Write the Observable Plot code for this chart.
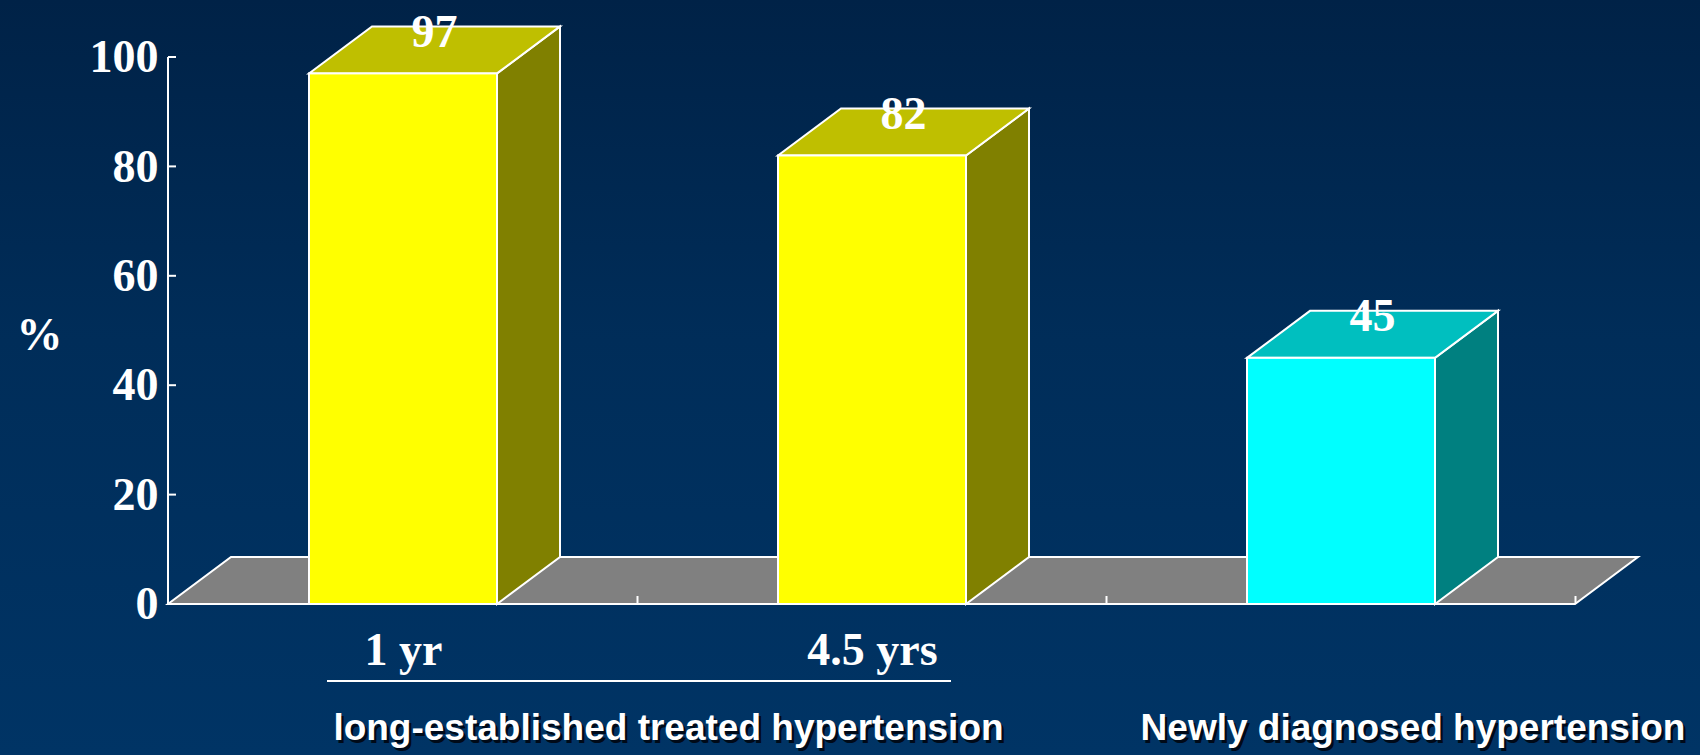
<!DOCTYPE html>
<html>
<head>
<meta charset="utf-8">
<script src="https://cdn.jsdelivr.net/npm/d3@7"></script>
<script src="https://cdn.jsdelivr.net/npm/@observablehq/plot@0.6"></script>
<style>
  html, body { margin: 0; padding: 0; overflow: hidden; }
  body {
    width: 1700px; height: 755px;
    background: linear-gradient(to bottom, #002247 0%, #002d59 45%, #003465 100%);
  }
  #chart svg { display: block; }
  #chart g[aria-label$="tick label"] { font: bold 46px "Liberation Serif", "Times New Roman", serif; }
</style>
</head>
<body>
<div id="chart"></div>
<script>
// Share of patients (%) per group
const categories = ["1 yr", "4.5 yrs", "Newly diagnosed"];
const tickLabels = ["1 yr", "4.5 yrs", ""];
const values = [97, 82, 45];
const kinds = ["treated", "treated", "new"];
const yTicks = [0, 20, 40, 60, 80, 100];
const groupLabels = ["long-established treated hypertension", "Newly diagnosed hypertension"];
const percentLabel = "%";

const rows = categories.map((category, i) => ({category, value: values[i], kind: kinds[i]}));

// oblique projection used for the extruded faces (pixels)
const depth = {dx: 63, dy: -47};
const serif = "Liberation Serif, Times New Roman, serif";
const sans = "Liberation Sans, Arial, sans-serif";

const poly = (pts) => "M" + pts.map((p) => p.join(",")).join("L") + "Z";
const shade = (c, k) => { const r = d3.rgb(c); return d3.rgb(r.r * k, r.g * k, r.b * k).formatHex(); };

// floor plate, axis line, ticks and the top/side faces of each bar
function floorAndFaces(index, scales, values, dims) {
  const {x, y, color} = scales;
  const bw = x.bandwidth(), step = x.step();
  const y0 = y(0);
  const left = dims.marginLeft, right = dims.width - dims.marginRight;
  const g = d3.create("svg:g")
    .attr("stroke", "white").attr("stroke-width", 2).attr("stroke-linejoin", "miter");
  g.append("path").attr("fill", "#808080")
    .attr("d", poly([[left, y0], [right, y0], [right + depth.dx, y0 + depth.dy], [left + depth.dx, y0 + depth.dy]]));
  // y axis line with inward ticks
  g.append("line").attr("x1", left).attr("x2", left).attr("y1", y(yTicks[0])).attr("y2", y(yTicks[yTicks.length - 1]));
  for (const t of yTicks.slice(1)) {
    g.append("line").attr("x1", left).attr("x2", left + 8).attr("y1", y(t)).attr("y2", y(t));
  }
  // ticks at band boundaries along the floor's front edge
  for (const c of categories) {
    const bx = x(c) + bw + (step - bw) / 2;
    g.append("line").attr("x1", bx).attr("x2", bx).attr("y1", y0).attr("y2", y0 - 8);
  }
  for (const d of rows) {
    const x0 = x(d.category), x1 = x0 + bw, yv = y(d.value);
    const base = color(d.kind);
    g.append("path").attr("fill", shade(base, 0.5))
      .attr("d", poly([[x1, yv], [x1 + depth.dx, yv + depth.dy], [x1 + depth.dx, y0 + depth.dy], [x1, y0]]));
    g.append("path").attr("fill", shade(base, 0.75))
      .attr("d", poly([[x0, yv], [x1, yv], [x1 + depth.dx, yv + depth.dy], [x0 + depth.dx, yv + depth.dy]]));
  }
  return g.node();
}

// underline for the treated group and the two group captions
function groupCaptions(index, scales, values, dims) {
  const {x, y} = scales;
  const bw = x.bandwidth();
  const y0 = y(0);
  const g = d3.create("svg:g");
  g.append("line")
    .attr("x1", x(categories[0]) + 18).attr("x2", x(categories[1]) + bw - 15)
    .attr("y1", y0 + 77).attr("y2", y0 + 77)
    .attr("stroke", "white").attr("stroke-width", 2);
  const centers = [
    (x(categories[0]) + x(categories[1])) / 2 + bw / 2 + 31,
    x(categories[2]) + bw / 2 + 72
  ];
  groupLabels.forEach((label, i) => {
    for (const [off, fill] of [[2.5, "#000a18"], [0, "white"]]) {
      g.append("text")
        .attr("x", centers[i] + off).attr("y", y0 + 136 + off)
        .attr("text-anchor", "middle")
        .attr("font-family", sans).attr("font-weight", "bold").attr("font-size", 37)
        .attr("fill", fill)
        .text(label);
    }
  });
  return g.node();
}

const chart = Plot.plot({
  width: 1700,
  height: 755,
  marginTop: 57,
  marginBottom: 151,
  marginLeft: 168,
  marginRight: 125,
  style: {background: "transparent", color: "white", fontFamily: serif, fontWeight: "bold", fontSize: "46px", overflow: "visible"},
  x: {type: "band", domain: categories, paddingInner: 0.6, paddingOuter: 0.3, axis: null},
  y: {domain: [0, 100], axis: null},
  color: {domain: ["treated", "new"], range: ["#ffff00", "#00ffff"]},
  marks: [
    floorAndFaces,
    Plot.barY(rows, {x: "category", y: "value", fill: "kind", stroke: "white", strokeWidth: 2}),
    Plot.text(rows, {
      x: "category", y: "value", text: (d) => String(d.value),
      dx: 31, dy: -27, lineAnchor: "bottom", fill: "white",
      fontSize: 46, fontWeight: "bold", fontFamily: serif
    }),
    Plot.axisY({
      ticks: yTicks, tickSize: 0, tickPadding: 10, label: null,
      fontSize: 46, fontWeight: "bold", fontFamily: serif, fill: "white"
    }),
    Plot.axisX({
      tickSize: 0, tickPadding: 28, label: null,
      tickFormat: (d) => tickLabels[categories.indexOf(d)],
      fontSize: 46, fontWeight: "bold", fontFamily: serif, fill: "white"
    }),
    Plot.text([percentLabel], {
      frameAnchor: "left", textAnchor: "middle", dx: -129, dy: 4,
      fill: "white", fontSize: 46, fontWeight: "bold", fontFamily: serif
    }),
    groupCaptions
  ]
});

document.getElementById("chart").append(chart);
</script>
</body>
</html>
